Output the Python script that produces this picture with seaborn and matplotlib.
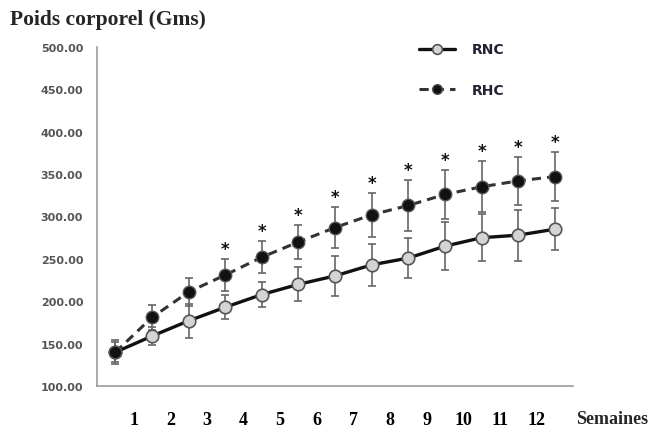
import numpy as np
import pandas as pd
import seaborn as sns
import matplotlib.pyplot as plt

# weeks 0..12 (first point is the baseline, drawn before tick "1")
weeks = np.arange(13)
rnc_mean = [140, 159, 177, 193, 208, 220, 230, 243, 251, 265, 275, 278, 285]
rnc_err = [12, 11, 20, 14, 15, 20, 24, 25, 24, 28, 28, 30, 25]
rhc_mean = [140, 181, 211, 231, 252, 270, 287, 302, 313, 326, 335, 342, 347]
rhc_err = [14, 15, 17, 19, 19, 20, 24, 26, 30, 29, 30, 28, 29]
significant = [False, False, False, True, True, True, True, True, True, True, True, True, True]
tick_labels = [str(i) for i in range(1, 13)]

df = pd.DataFrame({'week': weeks + 0.5, 'RNC': rnc_mean, 'RHC': rhc_mean,
                   'RNC_err': rnc_err, 'RHC_err': rhc_err})

sns.set_style('white')
fig = plt.figure(figsize=(6.49, 4.35), dpi=100)
ax = fig.add_axes([0.1495, 0.110, 0.7335, 0.780])

# error bars behind the markers
ax.errorbar(df['week'], df['RNC'], yerr=df['RNC_err'], fmt='none', ecolor='#666666',
            elinewidth=1.2, capsize=3, capthick=1.2, zorder=1)
ax.errorbar(df['week'], df['RHC'], yerr=df['RHC_err'], fmt='none', ecolor='#666666',
            elinewidth=1.2, capsize=3, capthick=1.2, zorder=1)

sns.lineplot(data=df, x='week', y='RNC', ax=ax, color='#111111', linewidth=2.4,
             marker='o', markersize=9, markerfacecolor='#d4d4d4',
             markeredgecolor='#555555', markeredgewidth=1.2, label='RNC', zorder=3)
sns.lineplot(data=df, x='week', y='RHC', ax=ax, color='#333333', linewidth=2.2,
             dashes=(3, 2), marker='o', markersize=9, markerfacecolor='#111111',
             markeredgecolor='#555555', markeredgewidth=1, label='RHC', zorder=4)

# significance stars above the RHC bars
for x, m, e, s in zip(df['week'], rhc_mean, rhc_err, significant):
    if s:
        ax.text(x, m + e + 12, '*', ha='center', va='center', fontsize=12,
                fontweight='bold', color='#111111')

ax.set_xlim(0, 13)
ax.set_ylim(100, 500)
ax.set_yticks(np.arange(100, 501, 50))
ax.set_yticklabels([f'{v:.2f}' for v in np.arange(100, 501, 50)],
                   fontsize=8, fontweight='bold', color='#555555')
ax.set_xticks(range(1, 13))
ax.set_xticklabels(tick_labels, fontsize=13, fontweight='bold',
                   family='Liberation Serif', color='black')
ax.tick_params(axis='x', length=4, color='#999999', pad=14)
ax.tick_params(axis='y', length=4, color='#999999', pad=6)
ax.set_xlabel('')
ax.set_ylabel('')
for side in ['top', 'right']:
    ax.spines[side].set_visible(False)
for side in ['left', 'bottom']:
    ax.spines[side].set_color('#999999')
    ax.spines[side].set_linewidth(1.2)

handles, labels = ax.get_legend_handles_labels()
order = [labels.index('RNC'), labels.index('RHC')]
leg = ax.legend([handles[i] for i in order], [labels[i] for i in order],
                loc='upper left', bbox_to_anchor=(0.65, 1.05), frameon=False,
                handlelength=2.6, labelspacing=1.9, handletextpad=1.2,
                prop={'weight': 'bold', 'size': 10})
for t in leg.get_texts():
    t.set_color('#222233')
for h in leg.legend_handles:
    h.set_markersize(7)

fig.text(0.015, 0.955, 'Poids corporel (Gms)', fontsize=15.5, fontweight='bold',
         family='Liberation Serif', va='center')
fig.text(0.888, 0.035, 'Semaines', fontsize=13, fontweight='bold',
         family='Liberation Serif', va='center')

fig.savefig('out.png', dpi=100)
